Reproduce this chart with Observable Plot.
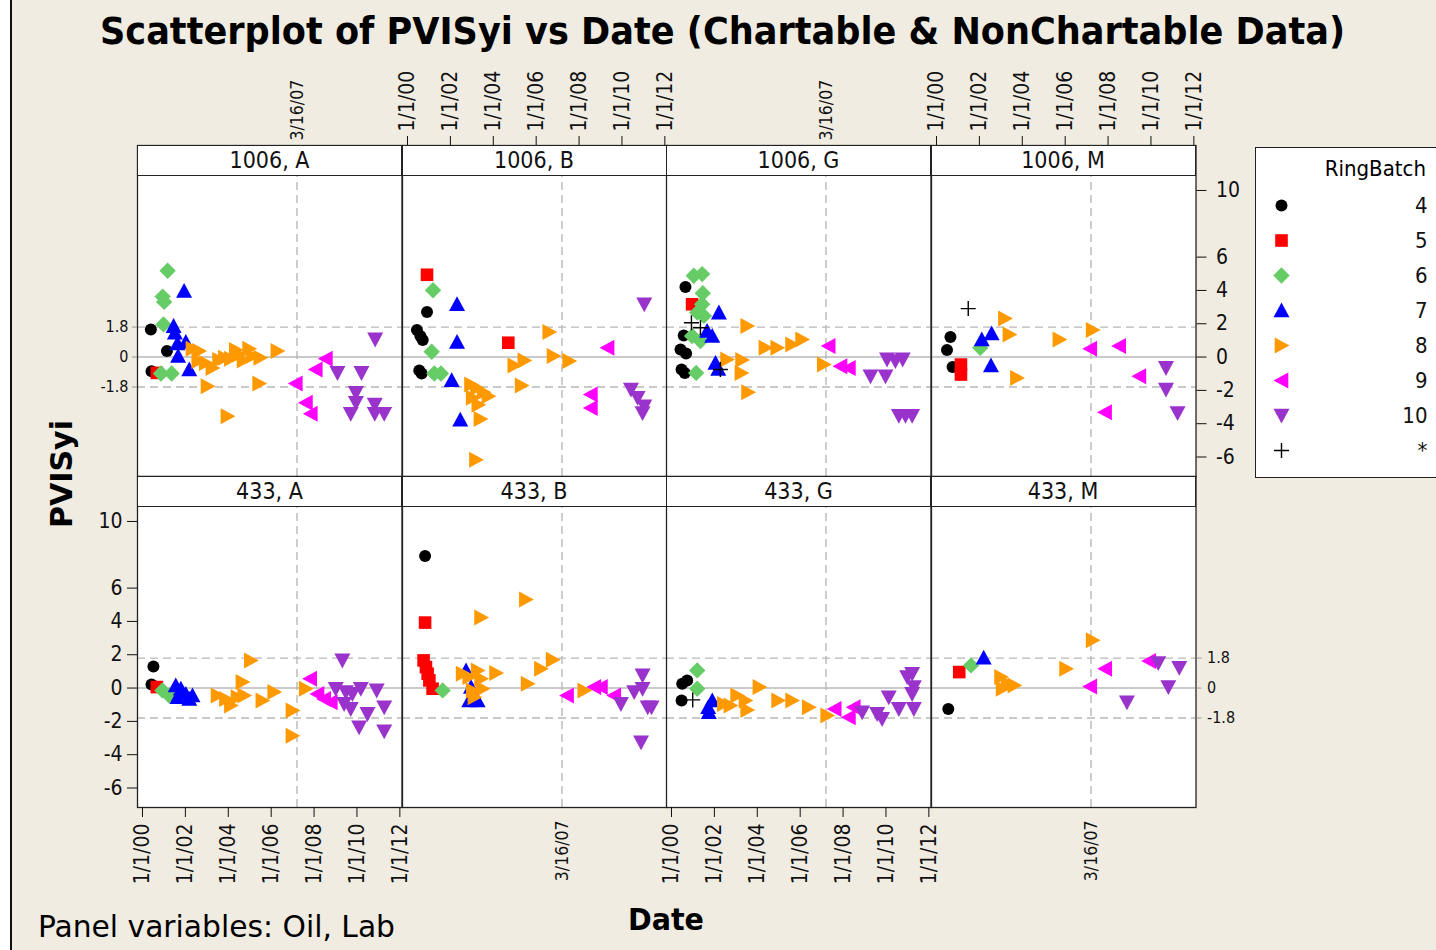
<!DOCTYPE html>
<html>
<head>
<meta charset="utf-8">
<script src="https://cdn.jsdelivr.net/npm/d3@7"></script>
<script src="https://cdn.jsdelivr.net/npm/@observablehq/plot@0.6"></script>
<style>
  html, body { margin: 0; padding: 0; background: #ffffff; }
  #chart { position: relative; width: 1436px; height: 950px; overflow: hidden; background: #ffffff;
    font-family: "DejaVu Sans Condensed", "DejaVu Sans", sans-serif; color: #111; }
  #bg { position: absolute; left: 10px; top: 0; width: 1426px; height: 950px; background: #F0ECE2;
    border-left: 2px solid #111; box-sizing: border-box; }
  .panel { position: absolute; }
  .strip { position: absolute; height: 31px; box-sizing: border-box; border: 1.3px solid #222; background: #fff;
    text-align: center; font-size: 23px; line-height: 28px; white-space: nowrap; }
  #legend { position: absolute; left: 1255px; top: 147px; width: 200px; height: 331px; box-sizing: border-box;
    border: 1.3px solid #222; background: #fff; }
  #legend .lp { position: absolute; left: 0; top: 0; }
  #overlay { position: absolute; left: 0; top: 0; pointer-events: none; }
</style>
</head>
<body>
<div id="chart"><div id="bg"></div></div>
<script>
// ---------------- data ----------------
const oils = ["1006", "433"];
const labs = ["A", "B", "G", "M"];
const batches = ["4", "5", "6", "7", "8", "9", "10", "*"];
const xTickYears = [2000, 2002, 2004, 2006, 2008, 2010, 2012];
const xTickLabels = ["1/1/00", "1/1/02", "1/1/04", "1/1/06", "1/1/08", "1/1/10", "1/1/12"];
const yTicks = [10, 6, 4, 2, 0, -2, -4, -6];
const refValues = [1.8, 0, -1.8];
const refDate = 2007.204;          // 3/16/07 as decimal year
const refDateLabel = "3/16/07";

// [RingBatch, date (decimal year), PVISyi]
const d1006A = [
 ["4",2000.39,1.66],["4",2001.14,0.36],["4",2000.42,-0.85],
 ["5",2000.67,-0.95],
 ["6",2001.17,5.18],["6",2000.94,3.63],["6",2001.01,3.31],["6",2000.98,1.96],["6",2000.86,-0.99],["6",2001.36,-0.99],
 ["7",2001.94,3.97],["7",2001.45,1.86],["7",2001.51,1.46],["7",2001.63,0.82],["7",2002.02,0.9],["7",2001.66,0.06],["7",2002.18,-0.75],
 ["8",2002.33,0.5],["8",2002.64,0.36],["8",2002.60,-0.24],["8",2002.95,-0.35],["8",2003.26,-0.65],["8",2003.57,-0.18],["8",2003.84,-0.04],
 ["8",2004.12,-0.1],["8",2004.35,0.42],["8",2004.51,0.16],["8",2004.71,-0.2],["8",2004.97,0.5],["8",2005.13,0.06],["8",2005.49,-0.04],
 ["8",2006.29,0.36],["8",2003.03,-1.75],["8",2005.44,-1.59],["8",2003.96,-3.56],
 ["9",2008.55,-0.1],["9",2008.08,-0.75],["9",2007.15,-1.59],["9",2007.62,-2.75],["9",2007.85,-3.4],
 ["10",2010.85,1.06],["10",2009.09,-0.95],["10",2010.21,-0.95],["10",2009.95,-2.15],["10",2009.95,-2.75],["10",2009.71,-3.4],
 ["10",2010.83,-2.85],["10",2010.83,-3.4],["10",2011.27,-3.4]
];
const d1006B = [
 ["4",2000.91,2.71],["4",2000.44,1.62],["4",2000.60,1.26],["4",2000.71,1.02],["4",2000.55,-0.81],["4",2000.66,-0.99],
 ["5",2000.91,4.94],["5",2004.70,0.86],
 ["6",2001.19,4.01],["6",2001.13,0.32],["6",2001.25,-0.99],["6",2001.56,-0.99],
 ["7",2002.31,3.17],["7",2002.31,0.9],["7",2002.06,-1.39],["7",2002.46,-3.76],
 ["8",2006.61,1.5],["8",2006.81,0.06],["8",2007.54,-0.24],["8",2004.98,-0.51],["8",2005.45,-0.2],["8",2005.32,-1.71],
 ["8",2002.96,-1.65],["8",2003.24,-1.85],["8",2003.55,-2.11],["8",2003.77,-2.35],["8",2003.04,-2.45],["8",2003.30,-2.86],
 ["8",2003.40,-3.72],["8",2003.19,-6.17],
 ["9",2009.33,0.56],["9",2008.55,-2.25],["9",2008.55,-3.06],
 ["10",2011.04,3.17],["10",2010.42,-1.95],["10",2010.73,-2.45],["10",2011.04,-2.96],["10",2010.96,-3.36]
];
const d1006G = [
 ["4",2000.65,4.21],["4",2000.57,1.3],["4",2000.42,0.46],["4",2000.68,0.22],["4",2000.47,-0.75],["4",2000.62,-0.95],
 ["5",2000.96,3.17],
 ["6",2001.04,4.88],["6",2001.43,4.98],["6",2001.46,3.83],["6",2001.43,3.17],["6",2001.20,2.67],["6",2001.51,2.47],
 ["6",2000.96,1.26],["6",2001.35,0.96],["6",2001.15,-0.95],
 ["7",2002.21,2.67],["7",2001.66,1.56],["7",2001.90,1.26],["7",2002.05,-0.35],["7",2002.18,-0.71],
 ["8",2003.53,1.86],["8",2004.38,0.56],["8",2004.93,0.56],["8",2005.62,0.76],["8",2006.09,1.06],["8",2002.59,-0.14],
 ["8",2003.29,-0.18],["8",2003.26,-0.95],["8",2003.57,-2.11],["8",2007.10,-0.45],
 ["9",2007.33,0.66],["9",2007.88,-0.55],["9",2008.27,-0.65],
 ["10",2010.05,-0.14],["10",2010.44,-0.24],["10",2010.78,-0.14],["10",2009.28,-1.15],["10",2009.98,-1.15],
 ["10",2010.60,-3.52],["10",2010.91,-3.52],["10",2011.22,-3.52],
 ["*",2000.93,2.06],["*",2001.35,1.76],["*",2002.28,-0.75]
];
const d1006M = [
 ["4",2000.65,1.2],["4",2000.49,0.42],["4",2000.75,-0.59],
 ["5",2001.14,-0.45],["5",2001.14,-1.05],
 ["6",2002.04,0.56],
 ["7",2002.11,1.06],["7",2002.57,1.42],["7",2002.54,-0.51],
 ["8",2003.19,2.31],["8",2003.40,1.36],["8",2005.73,1.06],["8",2007.28,1.62],["8",2003.75,-1.25],
 ["9",2007.17,0.5],["9",2008.52,0.66],["9",2009.46,-1.15],["9",2007.86,-3.32],
 ["10",2010.70,-0.65],["10",2010.70,-1.95],["10",2011.24,-3.36],
 ["*",2001.48,2.91]
];
const d433A = [
 ["4",2000.51,1.3],["4",2000.42,0.22],
 ["5",2000.67,0.06],
 ["6",2000.93,-0.14],["6",2001.24,-0.45],
 ["7",2001.55,0.16],["7",2001.79,-0.04],["7",2002.02,-0.35],["7",2002.18,-0.65],["7",2001.63,-0.55],["7",2002.33,-0.45],
 ["8",2005.05,1.66],["8",2004.66,0.36],["8",2003.50,-0.45],["8",2003.89,-0.65],["8",2004.12,-1.05],["8",2004.43,-0.55],
 ["8",2004.74,-0.45],["8",2005.59,-0.75],["8",2006.14,-0.24],["8",2007.61,-0.04],["8",2006.99,-1.35],["8",2006.99,-2.86],
 ["9",2007.82,0.56],["9",2008.16,-0.35],["9",2008.47,-0.65],["9",2008.78,-0.85],
 ["10",2009.32,1.66],["10",2009.01,-0.04],["10",2009.48,-0.24],["10",2009.79,-0.35],["10",2010.18,-0.04],["10",2010.92,-0.14],
 ["10",2009.40,-0.95],["10",2009.71,-1.25],["10",2010.49,-1.55],["10",2011.27,-1.15],["10",2010.10,-2.35],["10",2011.27,-2.59]
];
const d433B = [
 ["4",2000.82,7.93],
 ["5",2000.82,3.93],["5",2000.75,1.66],["5",2000.86,1.26],["5",2000.94,0.86],["5",2001.02,0.46],["5",2001.17,-0.04],
 ["6",2001.64,-0.14],
 ["7",2002.73,1.06],["7",2002.96,0.06],["7",2002.88,-0.75],["7",2003.27,-0.75],
 ["8",2005.52,5.32],["8",2003.43,4.23],["8",2006.77,1.7],["8",2006.22,1.16],["8",2004.13,0.9],["8",2005.60,0.26],
 ["8",2008.24,-0.14],["8",2002.57,0.86],["8",2002.88,0.66],["8",2003.27,1.06],["8",2003.43,0.56],["8",2003.04,-0.14],
 ["8",2003.50,-0.04],["8",2003.12,-0.55],
 ["9",2007.44,-0.45],["9",2008.71,0.06],["9",2009.02,0.06],["9",2009.64,-0.45],
 ["10",2010.96,0.76],["10",2010.57,-0.24],["10",2010.96,-0.04],["10",2009.95,-0.95],["10",2011.20,-1.15],["10",2011.38,-1.15],
 ["10",2010.89,-3.26]
];
const d433G = [
 ["4",2000.50,0.26],["4",2000.73,0.46],["4",2000.47,-0.75],
 ["6",2001.20,1.06],["6",2001.20,-0.04],
 ["7",2001.71,-1.15],["7",2001.90,-0.75],["7",2001.74,-1.45],
 ["8",2004.10,0.06],["8",2003.06,-0.45],["8",2002.44,-0.95],["8",2002.75,-1.05],["8",2003.45,-0.75],["8",2003.53,-1.31],
 ["8",2004.97,-0.75],["8",2005.62,-0.75],["8",2006.40,-1.15],["8",2007.26,-1.65],
 ["9",2007.61,-1.25],["9",2008.27,-1.75],["9",2008.50,-1.15],
 ["10",2011.22,0.86],["10",2010.99,0.66],["10",2011.30,0.06],["10",2011.22,-0.35],["10",2008.89,-1.45],["10",2009.59,-1.55],
 ["10",2009.82,-1.85],["10",2010.13,-0.55],["10",2010.60,-1.25],["10",2011.30,-1.25],
 ["*",2000.99,-0.71]
];
const d433M = [
 ["4",2000.55,-1.25],
 ["5",2001.06,0.96],
 ["6",2001.61,1.36],
 ["7",2002.20,1.82],
 ["8",2007.28,2.87],["8",2006.04,1.16],["8",2003.01,0.66],["8",2003.08,-0.04],["8",2003.63,0.16],["8",2003.32,0.26],
 ["9",2007.87,1.16],["9",2007.17,0.1],["9",2009.92,1.62],
 ["10",2010.34,1.5],["10",2011.32,1.22],["10",2010.81,0.06],["10",2008.88,-0.85]
];
const panelData = {
  "1006": {A: d1006A, B: d1006B, G: d1006G, M: d1006M},
  "433":  {A: d433A,  B: d433B,  G: d433G,  M: d433M}
};

// ---------------- styles ----------------
const batchColors = {"4":"#000000","5":"#FF0000","6":"#66CC66","7":"#0000FF","8":"#FF9900","9":"#FF00FF","10":"#9933CC","*":"#000000"};
function poly(pts) {
  return {draw(ctx, size) {
    const r = Math.sqrt(size / Math.PI);
    ctx.moveTo(pts[0][0] * r, pts[0][1] * r);
    for (let i = 1; i < pts.length; i++) ctx.lineTo(pts[i][0] * r, pts[i][1] * r);
    ctx.closePath();
  }};
}
const symPlus = {draw(ctx, size) {
  const r = Math.sqrt(size / Math.PI);
  ctx.moveTo(-r, 0); ctx.lineTo(r, 0); ctx.moveTo(0, -r); ctx.lineTo(0, r);
}};
const batchSymbols = {
  "4": "circle",
  "5": poly([[-1,-1],[1,-1],[1,1],[-1,1]]),
  "6": poly([[0,-1],[1,0],[0,1],[-1,0]]),
  "7": poly([[0,-1],[1,0.85],[-1,0.85]]),
  "8": poly([[1,0],[-0.85,-1],[-0.85,1]]),
  "9": poly([[-1,0],[0.85,-1],[0.85,1]]),
  "10": poly([[0,1],[1,-0.85],[-1,-0.85]]),
  "*": symPlus
};
const batchR = {"4":6,"5":6.3,"6":8.2,"7":8,"8":8,"9":8,"10":8,"*":7.5};
const gridColor = "#b8b8b8";

function dotMark(pts, b, extra = {}) {
  const isPlus = b === "*";
  return Plot.dot(pts, {
    symbol: batchSymbols[b], r: batchR[b],
    fill: isPlus ? "none" : batchColors[b],
    stroke: isPlus ? batchColors[b] : "none",
    strokeWidth: 1.4,
    ...extra
  });
}

// ---------------- layout ----------------
const chart = document.getElementById("chart");
const ML = 100, MR = 100, MT = 110, MB = 110;
const PW = 264.5, FH = 331;
const rowTops = [145, 476];
const colLeft = c => 137 + c * PW;
const yDomain = [-7.17, 12.7];
const yDataTop = 10.9;
const xDomain = [1999.767, 2012.1];
const fmtX = d => xTickLabels[xTickYears.indexOf(d)];
const fmtRef = d => d === 0 ? "0" : d.toFixed(1);
const plotStyle = {background: "transparent", overflow: "visible", color: "#111",
  fontFamily: '"DejaVu Sans Condensed", "DejaVu Sans", sans-serif'};

oils.forEach((oil, r) => {
  labs.forEach((lab, c) => {
    const data = panelData[oil][lab];
    const marks = [
      Plot.frame({fill: "#ffffff", stroke: null}),
      Plot.ruleY([0], {stroke: gridColor, strokeWidth: 1.4}),
      Plot.ruleY(refValues.filter(v => v !== 0), {stroke: gridColor, strokeWidth: 1.4, strokeDasharray: "8,5"}),
      Plot.ruleX([refDate], {y1: yDomain[0], y2: yDataTop, stroke: gridColor, strokeWidth: 1.4, strokeDasharray: "8,5"})
    ];
    for (const b of batches) {
      const pts = data.filter(d => d[0] === b);
      if (pts.length) marks.push(dotMark(pts, b, {x: d => d[1], y: d => d[2]}));
    }
    marks.push(Plot.frame({stroke: "#222", strokeWidth: 1.3}));

    // x axes (alternating, Minitab style)
    if (r === 0) {
      if (c % 2 === 1) marks.push(Plot.axisX(xTickYears, {anchor: "top", tickSize: 10, tickPadding: 4, tickRotate: -90, tickFormat: fmtX, label: null, fontSize: 21}));
      else marks.push(Plot.axisX([refDate], {anchor: "top", tickSize: 0, tickPadding: 5, tickRotate: -90, tickFormat: () => refDateLabel, label: null, fontSize: 17.5}));
    } else {
      if (c % 2 === 0) marks.push(Plot.axisX(xTickYears, {anchor: "bottom", tickSize: 10, tickPadding: 6, tickRotate: -90, tickFormat: fmtX, label: null, fontSize: 21}));
      else marks.push(Plot.axisX([refDate], {anchor: "bottom", tickSize: 0, tickPadding: 13, tickRotate: -90, tickFormat: () => refDateLabel, label: null, fontSize: 17.5}));
    }
    // y axes
    let hasY = false;
    if (c === 0) {
      hasY = true;
      if (r === 1) marks.push(Plot.axisY(yTicks, {anchor: "left", tickSize: 10, tickPadding: 5, tickFormat: d => String(d), label: null, fontSize: 21}));
      else marks.push(Plot.axisY(refValues, {anchor: "left", tickSize: 5, tickPadding: 4, tickFormat: fmtRef, label: null, fontSize: 16, stroke: "#999"}));
    } else if (c === 3) {
      hasY = true;
      if (r === 0) marks.push(Plot.axisY(yTicks, {anchor: "right", tickSize: 10, tickPadding: 10, tickFormat: d => String(d), label: null, fontSize: 21}));
      else marks.push(Plot.axisY(refValues, {anchor: "right", tickSize: 5, tickPadding: 6, tickFormat: fmtRef, label: null, fontSize: 16, stroke: "#999"}));
    }

    const plot = Plot.plot({
      width: ML + PW + MR, height: MT + FH + MB,
      marginLeft: ML, marginRight: MR, marginTop: MT, marginBottom: MB,
      x: {domain: xDomain},
      y: hasY ? {domain: yDomain} : {domain: yDomain, axis: null},
      style: plotStyle,
      marks
    });
    const wrap = document.createElement("div");
    wrap.className = "panel";
    wrap.style.left = (colLeft(c) - ML) + "px";
    wrap.style.top = (rowTops[r] - MT) + "px";
    wrap.style.width = (ML + PW + MR) + "px";
    wrap.appendChild(plot);
    chart.appendChild(wrap);
  });
});

// strips
oils.forEach((oil, r) => labs.forEach((lab, c) => {
  const s = document.createElement("div");
  s.className = "strip";
  s.style.left = colLeft(c) + "px";
  s.style.top = rowTops[r] + "px";
  s.style.width = (PW + 0.5) + "px";
  s.textContent = oil + ", " + lab;
  chart.appendChild(s);
}));

// legend
const legend = document.createElement("div");
legend.id = "legend";
const legendPlot = Plot.plot({
  width: 185, height: 329, marginLeft: 0, marginRight: 14, marginTop: 38.5, marginBottom: 9,
  y: {type: "point", domain: batches, padding: 0.5, axis: null},
  style: plotStyle,
  marks: [
    ...batches.map(b => dotMark([b], b, {y: d => d, frameAnchor: "left", dx: 25})),
    Plot.text(batches, {y: d => d, text: d => d, frameAnchor: "right", textAnchor: "end", fontSize: 22})
  ]
});
legendPlot.classList.add("lp");
legend.appendChild(legendPlot);
chart.appendChild(legend);

// free text
const NS = "http://www.w3.org/2000/svg";
const ov = document.createElementNS(NS, "svg");
ov.setAttribute("id", "overlay");
ov.setAttribute("width", 1436); ov.setAttribute("height", 950);
ov.style.fontFamily = '"DejaVu Sans Condensed", "DejaVu Sans", sans-serif';
function addText(str, attrs) {
  const t = document.createElementNS(NS, "text");
  for (const k in attrs) t.setAttribute(k, attrs[k]);
  t.setAttribute("fill", "#000");
  t.textContent = str;
  ov.appendChild(t);
}
addText("Scatterplot of PVISyi vs Date (Chartable & NonChartable Data)",
  {x: 100, y: 44, "font-size": 37, "font-weight": "bold", textLength: 1245, lengthAdjust: "spacingAndGlyphs"});
addText("PVISyi", {transform: "translate(72,474) rotate(-90)", "text-anchor": "middle", "font-size": 31, "font-weight": "bold",
  textLength: 108, lengthAdjust: "spacingAndGlyphs"});
addText("Date", {x: 666, y: 930, "text-anchor": "middle", "font-size": 30, "font-weight": "bold", textLength: 76, lengthAdjust: "spacingAndGlyphs"});
addText("Panel variables: Oil, Lab", {x: 38, y: 937, "font-size": 31, textLength: 357, lengthAdjust: "spacingAndGlyphs"});
addText("RingBatch", {x: 1426, y: 176, "text-anchor": "end", "font-size": 22});
chart.appendChild(ov);
</script>
</body>
</html>
